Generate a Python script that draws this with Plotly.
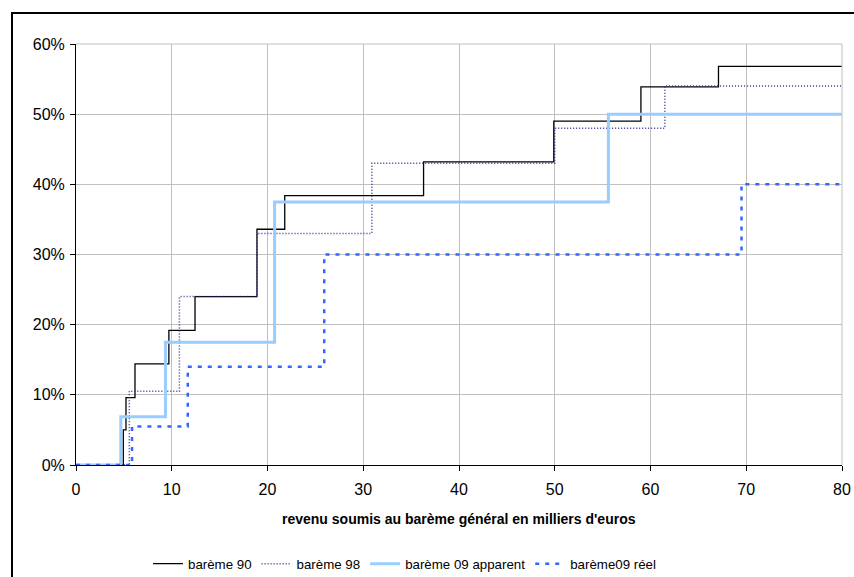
import plotly.graph_objects as go

# thresholds (thousands of euros) and marginal rates
x_b90 = [0, 4.94, 5.22, 6.16, 9.7, 12.43, 18.9, 21.8, 36.3, 49.9, 59.0, 67.1, 80]
y_b90 = [0, 0.05, 0.096, 0.144, 0.192, 0.24, 0.336, 0.384, 0.432, 0.49, 0.539, 0.568, 0.568]

x_b98 = [0, 5.57, 10.8, 18.9, 30.9, 50.0, 61.5, 80]
y_b98 = [0, 0.105, 0.24, 0.33, 0.43, 0.48, 0.54, 0.54]

x_b09a = [0, 4.68, 9.34, 20.74, 55.6, 80]
y_b09a = [0, 0.06875, 0.175, 0.375, 0.50, 0.50]

x_b09r = [0, 5.852, 11.673, 25.926, 69.505, 80]
y_b09r = [0, 0.055, 0.14, 0.30, 0.40, 0.40]

names = ["barème 90", "barème 98", "barème 09 apparent", "barème09 réel"]
x_ticks = [0, 10, 20, 30, 40, 50, 60, 70, 80]
y_ticks = [0, 0.1, 0.2, 0.3, 0.4, 0.5, 0.6]

FONT = "Liberation Sans, Arial, sans-serif"

fig = go.Figure()
fig.add_trace(go.Scatter(x=x_b90, y=y_b90, name=names[0], mode="lines",
                         line=dict(shape="hv", color="#000000", width=1.3)))
fig.add_trace(go.Scatter(x=x_b98, y=y_b98, name=names[1], mode="lines",
                         line=dict(shape="hv", color="#333399", width=1.5, dash="1px,2px")))
fig.add_trace(go.Scatter(x=x_b09a, y=y_b09a, name=names[2], mode="lines",
                         line=dict(shape="hv", color="#99ccff", width=3)))
fig.add_trace(go.Scatter(x=x_b09r, y=y_b09r, name=names[3], mode="lines",
                         line=dict(shape="hv", color="#3366ff", width=2.5, dash="4px,6px")))

W, H = 854, 577
L, R, T, B = 76, 12, 44, 112
pw, ph = W - L - R, H - T - B

def px_x(p):
    return (p - L) / pw

def px_y(p):
    return (H - B - p) / ph

fig.update_layout(
    width=W, height=H,
    margin=dict(l=L, r=R, t=T, b=B, pad=0, autoexpand=False),
    paper_bgcolor="white", plot_bgcolor="white",
    font=dict(family=FONT, color="black", size=16),
    showlegend=True,
    legend=dict(orientation="h", x=px_x(148), xanchor="left",
                y=px_y(564), yanchor="middle",
                font=dict(family=FONT, size=13.3, color="black"),
                itemwidth=30, tracegroupgap=0, bgcolor="rgba(0,0,0,0)"),
    xaxis=dict(range=[0, 80], tickvals=x_ticks, showgrid=True, gridcolor="#c0c0c0",
               gridwidth=1, showline=True, linecolor="black", linewidth=1,
               ticks="outside", ticklen=5, tickcolor="black", zeroline=False,
               ticklabelstandoff=5,
               tickfont=dict(family=FONT, size=16, color="black")),
    yaxis=dict(range=[0, 0.6], tickvals=y_ticks, tickformat=".0%", showgrid=True,
               gridcolor="#c0c0c0", gridwidth=1, showline=True, linecolor="black",
               linewidth=1, ticks="outside", ticklen=5, tickcolor="black", zeroline=False,
               ticklabelstandoff=2,
               tickfont=dict(family=FONT, size=16, color="black")),
    annotations=[dict(text="<b>revenu soumis au barème général en milliers d'euros</b>",
                      xref="paper", yref="paper", x=0.5, y=px_y(519),
                      xanchor="center", yanchor="middle", showarrow=False,
                      font=dict(family=FONT, size=14, color="black"))],
    shapes=[dict(type="rect", xref="paper", yref="paper",
                 x0=px_x(12), x1=px_x(870), y0=px_y(13), y1=px_y(600),
                 line=dict(color="black", width=2), layer="below"),
            dict(type="line", xref="paper", yref="paper", x0=0, x1=1, y0=1, y1=1,
                 line=dict(color="#c0c0c0", width=1)),
            dict(type="line", xref="paper", yref="paper", x0=1, x1=1, y0=0, y1=1,
                 line=dict(color="#c0c0c0", width=1))],
)

fig.write_html("out.html", config={"displayModeBar": False},
               post_script="document.body.style.margin='0';document.body.style.overflow='hidden';")
